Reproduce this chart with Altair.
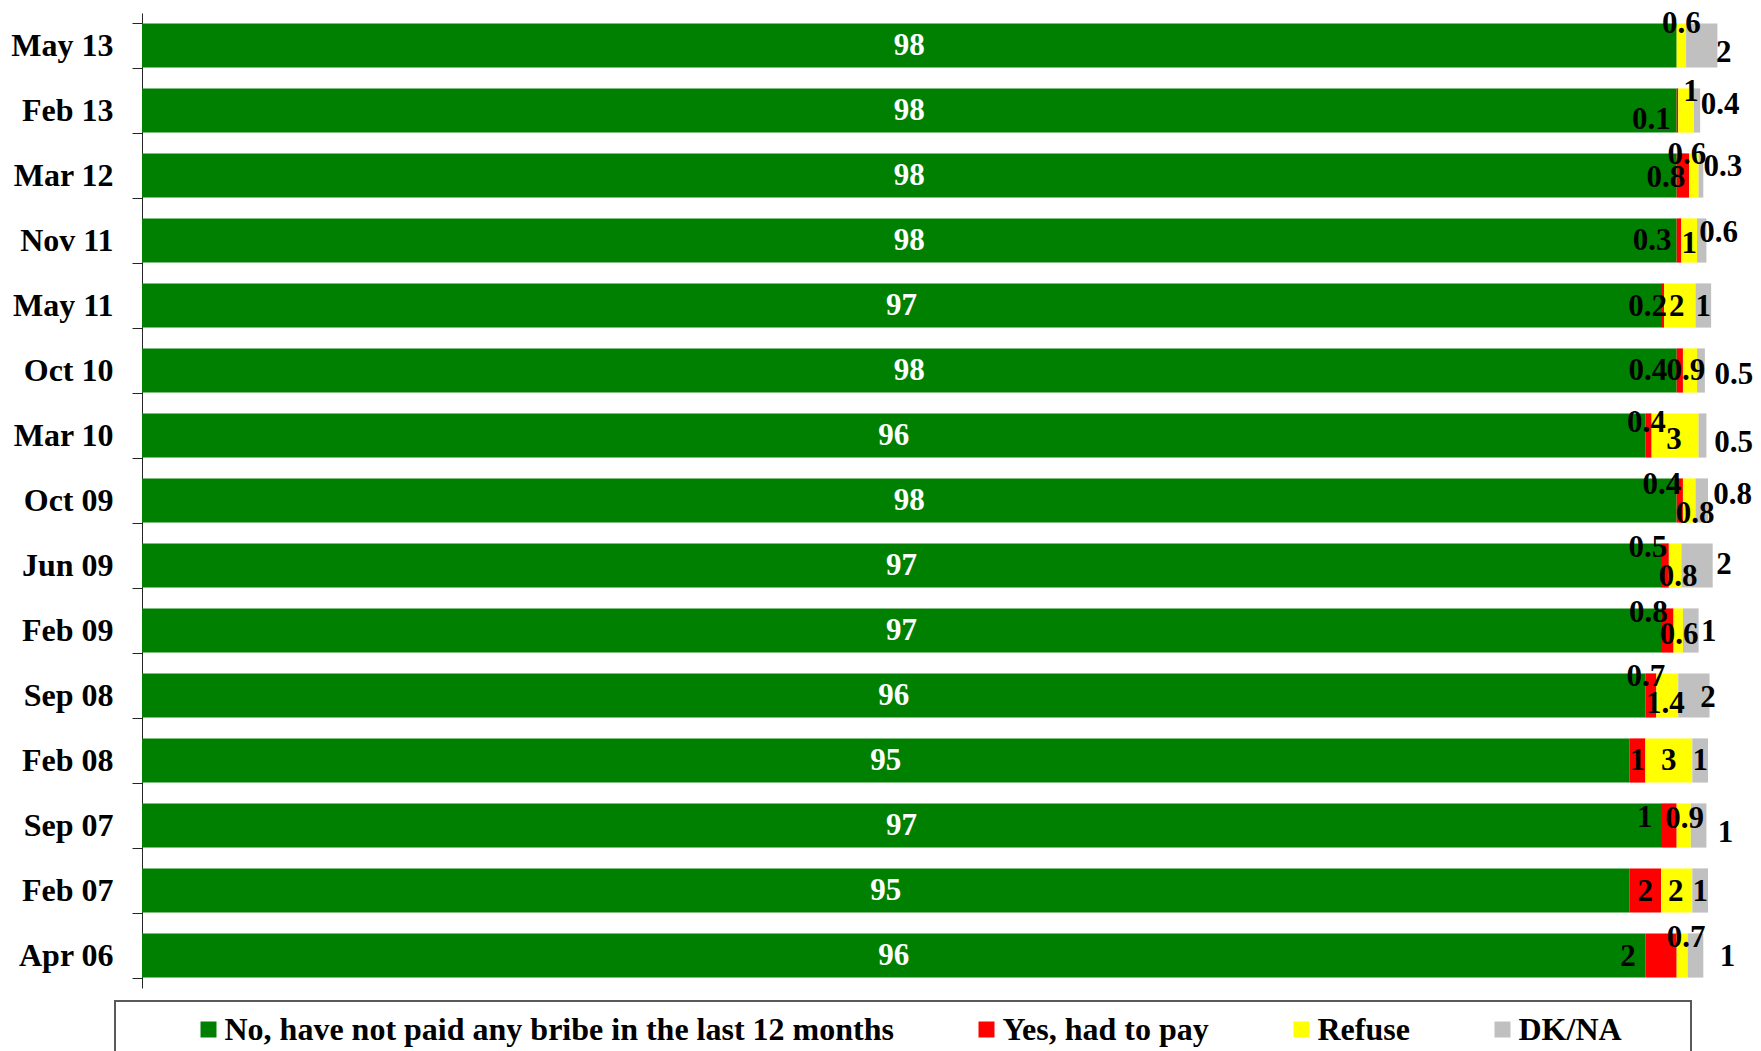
import altair as alt
import pandas as pd

FONT = "Liberation Serif"

dates = ["May 13", "Feb 13", "Mar 12", "Nov 11", "May 11", "Oct 10", "Mar 10",
         "Oct 09", "Jun 09", "Feb 09", "Sep 08", "Feb 08", "Sep 07", "Feb 07", "Apr 06"]

series_names = ["No, have not paid any bribe in the last 12 months",
                "Yes, had to pay", "Refuse", "DK/NA"]
series_colors = ["#008000", "#FF0000", "#FFFF00", "#C0C0C0"]

no_paid = [98, 98, 98, 98, 97, 98, 96, 98, 97, 97, 96, 95, 97, 95, 96]
yes_paid = [0, 0.1, 0.8, 0.3, 0.2, 0.4, 0.4, 0.4, 0.5, 0.8, 0.7, 1, 1, 2, 2]
refuse = [0.6, 1, 0.6, 1, 2, 0.9, 3, 0.8, 0.8, 0.6, 1.4, 3, 0.9, 2, 0.7]
dk_na = [2, 0.4, 0.3, 0.6, 1, 0.5, 0.5, 0.8, 2, 1, 2, 1, 1, 1, 1]

# label nudges (pixels) relative to segment centre, as placed in the original
no_nudge = [(0, 0)] * 15
yes_nudge = [(0, 0), (-26, 9), (-17, 2), (-27, 0), (-15, 1), (-32, 0), (-2, -13),
             (-18, -16), (-17, -18), (-19, -18), (-5, -19), (0, 0), (-24, -8), (0, 1), (-33, 1)]
refuse_nudge = [(0, -22), (5, -19), (-7, -21), (0, 3), (-3, 1), (-4, 0), (-1, 4),
                (6, 13), (3, 11), (1, 4), (-2, 8), (0, 0), (1, -7), (-1, 1), (4, -18)]
dk_nudge = [(22, 7), (23, -6), (22, -9), (17, -8), (0, 1), (33, 4), (31, 7),
            (31, -6), (27, -1), (18, 1), (14, 2), (0, 0), (27, 7), (0, 1), (32, 1)]

all_values = [no_paid, yes_paid, refuse, dk_na]
all_nudges = [no_nudge, yes_nudge, refuse_nudge, dk_nudge]

W, H = 1566, 975
X_MAX = 100
STEP = H / len(dates)
HALF_BAND = STEP * 0.68 / 2

rows = []
for i, d in enumerate(dates):
    for s, name in enumerate(series_names):
        v = all_values[s][i]
        dx, dy = all_nudges[s][i]
        rows.append({"date": d, "series": name, "order": s, "value": v,
                     "label": f"{v:g}", "dx": dx, "dy": dy})
df = pd.DataFrame(rows)

base = alt.Chart(df).transform_stack(
    stack="value", groupby=["date"], as_=["x0", "x1"],
    sort=[alt.SortField("order", "ascending")]
).transform_calculate(
    xm="(datum.x0 + datum.x1) / 2",
    xl=f"(datum.x0 + datum.x1) / 2 + datum.dx * {X_MAX / W}",
    yo=f"datum.dy + {HALF_BAND}",
)

y_enc = alt.Y(
    "date:N", sort=dates, title=None,
    scale=alt.Scale(paddingInner=0.32, paddingOuter=0.16),
    axis=alt.Axis(labelFont=FONT, labelFontSize=32, labelFontWeight="bold",
                  labelColor="black", labelPadding=19, tickSize=10,
                  tickBand="extent", tickColor="#262626", domainColor="#262626",
                  ticks=True, domain=True, grid=False),
)

NB = "\u00a0"
legend = alt.Legend(
    title=NB, titleOrient="left", titlePadding=65, titleFont=FONT, titleFontSize=31,
    orient="none", legendX=-27, legendY=988, direction="horizontal",
    labelFont=FONT, labelFontSize=32, labelFontWeight="bold", labelColor="black",
    labelLimit=2000, labelOffset=0, columnPadding=76,
    symbolType="square", symbolSize=256, symbolStrokeWidth=0,
    padding=12.5, strokeColor="#595959", fillColor="white",
    labelExpr="datum.label == 'DK/NA' ? 'DK/NA" + NB * 7 + "\u200b' : datum.label",
)

bars = base.mark_bar().encode(
    x=alt.X("x0:Q", scale=alt.Scale(domain=[0, X_MAX], nice=False, zero=True), axis=None),
    x2="x1:Q",
    y=y_enc,
    color=alt.Color("series:N", sort=series_names,
                    scale=alt.Scale(domain=series_names, range=series_colors),
                    legend=legend),
)

green_text = base.transform_filter("datum.order == 0").mark_text(
    font=FONT, fontSize=31, fontWeight="bold", baseline="middle", align="center", color="white"
).encode(
    x="xm:Q",
    y=alt.Y("date:N", sort=dates),
    text="label:N",
)

other_text = base.transform_filter("datum.order > 0 && datum.value > 0").mark_text(
    font=FONT, fontSize=31, fontWeight="bold", baseline="middle", align="center", color="black"
).encode(
    x="xl:Q",
    y=alt.Y("date:N", sort=dates),
    yOffset=alt.YOffset("yo:Q", scale=None),
    text="label:N",
)

chart = alt.layer(bars, green_text, other_text).properties(
    width=W, height=H,
    padding={"left": 134, "top": 5, "right": 45, "bottom": 80},
    autosize=alt.AutoSizeParams(type="none"),
).configure_view(stroke=None).configure_legend(strokeWidth=2)

chart.save("out.html", embed_options={"renderer": "svg", "actions": False})
